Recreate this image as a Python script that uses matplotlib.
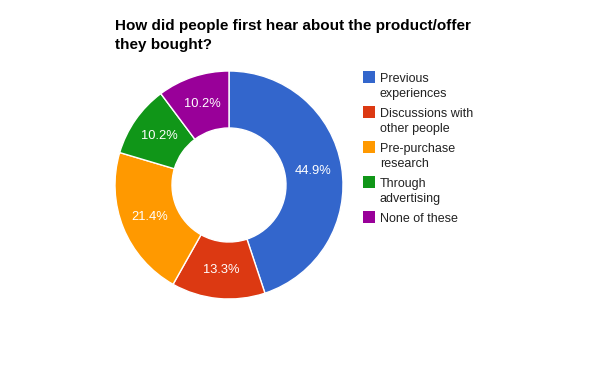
import matplotlib.pyplot as plt
from matplotlib.patches import Rectangle

categories = ['Previous\nexperiences', 'Discussions with\nother people', 'Pre-purchase\nresearch',
              'Through\nadvertising', 'None of these']
counts = [44, 13, 21, 10, 10]
colors = ['#3366cc', '#dc3912', '#ff9900', '#109618', '#990099']
title = 'How did people first hear about the product/offer\nthey bought?'

plt.rcParams['font.family'] = ['Liberation Sans', 'DejaVu Sans']

W, H = 600, 371
fig = plt.figure(figsize=(6, 3.71), dpi=100)

# pie axes: centre about (229, 185) px, radius 114 px
cx, cy, r = 229, 185, 114
ax = fig.add_axes([(cx - r) / W, (H - cy - r) / H, 2 * r / W, 2 * r / H])
ax.pie(counts, colors=colors, startangle=90, counterclock=False,
       autopct='%1.1f%%', pctdistance=0.75, radius=1,
       wedgeprops=dict(width=0.5, edgecolor='white', linewidth=1),
       textprops=dict(color='white', fontsize=9.3))
ax.set_xlim(-1, 1)
ax.set_ylim(-1, 1)
ax.set_axis_off()

fig.text(115 / W, 1 - 19 / H, title, fontsize=11, fontweight='bold',
         va='top', ha='left', linespacing=1.45)

# legend
for i, (lab, col) in enumerate(zip(categories, colors)):
    y = 77 + 35 * i
    fig.patches.append(Rectangle((363 / W, 1 - (y + 6) / H), 12 / W, 12 / H,
                                 transform=fig.transFigure, facecolor=col, edgecolor='none'))
    fig.text(380 / W, 1 - (y - 4) / H, lab, fontsize=9, color='#222222',
             va='top', ha='left', linespacing=1.3)

fig.savefig('out.png', dpi=100)
